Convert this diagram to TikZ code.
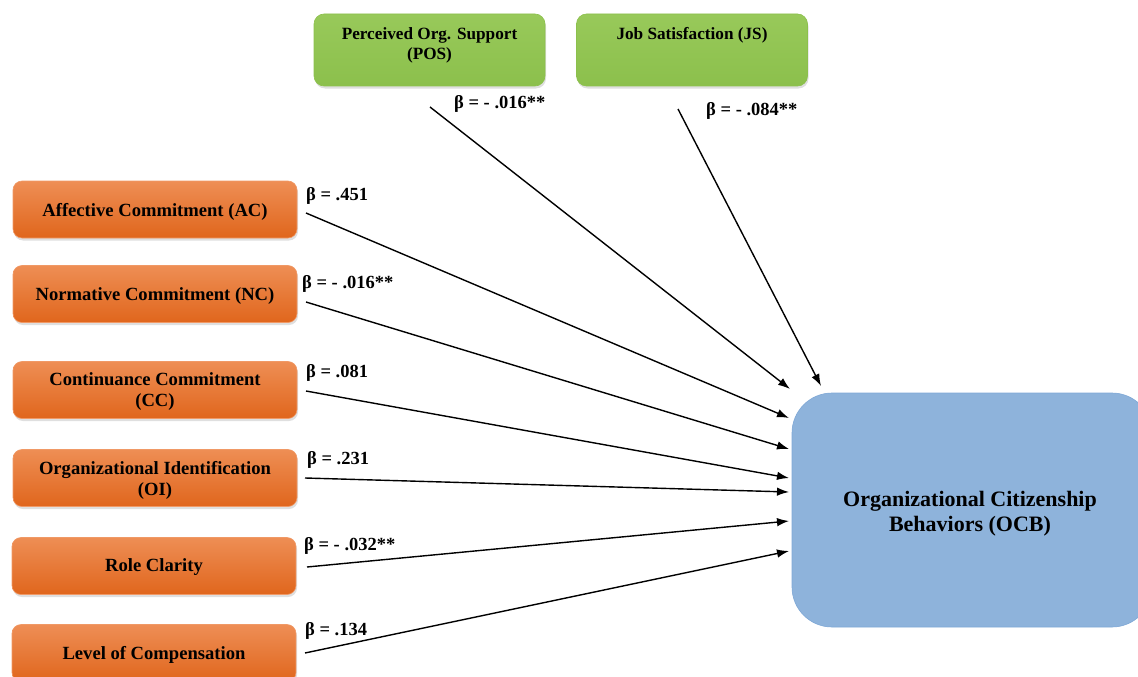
\documentclass[tikz,border=0pt]{standalone}
\usepackage{fontspec}
\setmainfont{Liberation Serif}
\usetikzlibrary{arrows.meta,shadows}
\definecolor{orangeTop}{HTML}{EE8E55}
\definecolor{orangeBot}{HTML}{E0661C}
\definecolor{greenTop}{HTML}{98C95A}
\definecolor{greenBot}{HTML}{8CC04C}
\definecolor{ocbBlue}{HTML}{8EB3DB}
\definecolor{ocbEdge}{HTML}{7FA8D6}
\tikzset{
  x=1pt, y=-1pt,
  orangebox/.style={draw=orangeTop!90!white, line width=0.6pt, rounded corners=9pt,
    top color=orangeTop, bottom color=orangeBot, minimum width=284pt, minimum height=57pt,
    drop shadow={opacity=0.25, shadow xshift=1pt, shadow yshift=-2.5pt}},
  orangetext/.style={align=center, font=\fontsize{18.6}{21}\selectfont\bfseries, text=black},
  greenbox/.style={draw=greenBot, line width=0.6pt, rounded corners=10pt,
    top color=greenTop, bottom color=greenBot, minimum width=231pt, minimum height=72pt,
    drop shadow={opacity=0.25, shadow xshift=1pt, shadow yshift=-2.5pt}},
  greentext/.style={align=center, font=\fontsize{17.2}{20}\selectfont\bfseries, anchor=north},
  ocbbox/.style={draw=ocbEdge, line width=0.6pt, fill=ocbBlue, rounded corners=40pt,
    minimum width=360pt, minimum height=234pt},
  ocbtext/.style={align=center, font=\fontsize{22}{25}\selectfont\bfseries},
  beta/.style={anchor=west, font=\fontsize{18.5}{20}\selectfont\bfseries, inner sep=0pt},
  path/.style={line width=1.4pt, -{Latex[length=12pt,width=8.5pt]}}
}
\begin{document}
\begin{tikzpicture}
\useasboundingbox (0,0) rectangle (1138,677);
\clip (0,0) rectangle (1138,677);
% top green boxes
\node[greenbox] (pos) at (429.5,50) {};
\node[greentext] (postxt) at (429.5,24) {Perceived Org. Support\\(POS)};
\node[greenbox] (js) at (692,50) {};
\node[greentext] (jstxt) at (692,24) {Job Satisfaction (JS)};
% orange boxes
\node[orangebox] (ac) at (155,209.5) {};
\node[orangebox] (nc) at (155,294) {};
\node[orangebox] (cc) at (155,390) {};
\node[orangebox] (oi) at (155,478) {};
\node[orangebox] (rc) at (154,566) {};
\node[orangebox] (lc) at (154,653) {};
\node[orangetext] (actxt) at (155,212) {Affective Commitment (AC)};
\node[orangetext] (nctxt) at (155,296) {Normative Commitment (NC)};
\node[orangetext] (cctxt) at (155,392) {Continuance Commitment\\(CC)};
\node[orangetext] (oitxt) at (155,480) {Organizational Identification\\(OI)};
\node[orangetext] (rctxt) at (154,567) {Role Clarity};
\node[orangetext] (lctxt) at (154,655) {Level of Compensation};
% OCB
\node[ocbbox] (ocb) at (972,510) {};
\node[ocbtext] (ocbtxt) at (970,514) {Organizational Citizenship\\Behaviors (OCB)};
% arrow end points
\coordinate (sPOS) at (430,107);  \coordinate (ePOS) at (790,389);
\coordinate (sJS) at (678,109);   \coordinate (eJS) at (821,386);
\coordinate (sAC) at (306,213);   \coordinate (eAC) at (789,418);
\coordinate (sNC) at (306,302);   \coordinate (eNC) at (789,449);
\coordinate (sCC) at (306,391);   \coordinate (eCC) at (789,478);
\coordinate (sOI) at (305,478);   \coordinate (eOI) at (789,492);
\coordinate (sRC) at (307,567);   \coordinate (eRC) at (789,521);
\coordinate (sLC) at (305,653);   \coordinate (eLC) at (789,551);
\foreach \n in {POS,JS,AC,NC,CC,OI,RC,LC}{\draw[path] (s\n) -- (e\n);}
% labels
\node[beta] (bPOS) at (454,104) {β = - .016**};
\node[beta] (bJS) at (706,111) {β = - .084**};
\node[beta] (bAC) at (306,196) {β = .451};
\node[beta] (bNC) at (302,284) {β = - .016**};
\node[beta] (bCC) at (306,373) {β = .081};
\node[beta] (bOI) at (307,460) {β = .231};
\node[beta] (bRC) at (304,546) {β = - .032**};
\node[beta] (bLC) at (305,631) {β = .134};
\end{tikzpicture}
\end{document}
